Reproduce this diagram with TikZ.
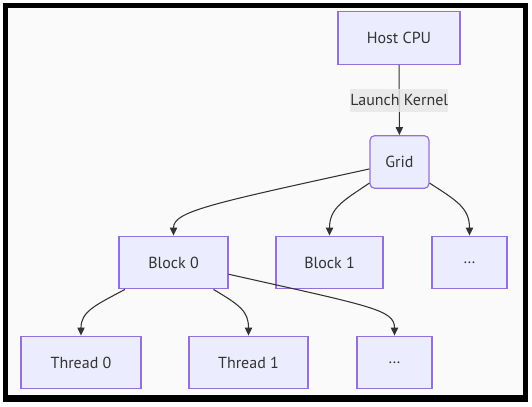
\documentclass[tikz,border=0pt]{standalone}
\usepackage{fontspec}
\setmainfont{PT Sans}
\usetikzlibrary{arrows.meta}
\definecolor{nodefill}{HTML}{ECECFF}
\definecolor{nodeline}{HTML}{9370DB}
\definecolor{edgecol}{HTML}{333333}
\definecolor{lblbg}{HTML}{E8E8E8}
\definecolor{pagebg}{HTML}{FAFAFA}

\begin{document}
\begin{tikzpicture}[x=0.75pt, y=-0.75pt,
  main/.style = {draw=nodeline, fill=nodefill, line width=0.9pt, text=edgecol,
    inner sep=0pt, minimum height=39.5pt, font=\fontsize{12}{14}\selectfont},
  lbl/.style = {fill=lblbg, fill opacity=0.85, text opacity=1, text=edgecol, inner sep=0pt,
    minimum width=73.5pt, minimum height=17.25pt, font=\fontsize{12}{14}\selectfont},
  arr/.style = {draw=edgecol, line width=0.8pt, -{Triangle[length=6pt, width=5.5pt]}}]

	\useasboundingbox (0, 0) rectangle (532, 407);
	\fill[white] (0, 0) rectangle (532, 407);
	\fill[black] (3, 3) rectangle (528, 402);
	\fill[pagebg] (8, 8) rectangle (523, 395);

	\node[main, minimum width=91.5pt] (C) at (399, 38) {Host CPU};
	\node[main, minimum width=44.25pt, rounded corners=3.5pt] (G) at (399.5, 162) {Grid};

	\node[main, minimum width=81.75pt] (B0) at (173.5, 262.5) {Block 0};
	\node[main, minimum width=80.25pt] (B1) at (329.5, 262.5) {Block 1};
	\node[main, minimum width=56.25pt] (B2) at (469.5, 262.5) {\dots};

	\node[main, minimum width=90pt] (T0) at (81, 362.5) {Thread 0};
	\node[main, minimum width=89.25pt] (T1) at (248.5, 362.5) {Thread 1};
	\node[main, minimum width=56.25pt] (T2) at (394.5, 362.5) {\dots};

	\draw[arr] (C) -- node[lbl] (L) {Launch Kernel} (G);

	\draw[arr] (G.193) .. controls +(-160, 35) and +(0, -24) .. (B0.north);
	\draw[arr] (G.215) .. controls +(-25, 17) and +(0, -28) .. (B1.north);
	\draw[arr] (G.325) .. controls +(26, 17) and +(0, -28) .. (B2.north);

	\draw[arr] (B0.209) .. controls +(-30, 16) and +(0, -24) .. (T0.north);
	\draw[arr] (B0.326) .. controls +(27, 16) and +(0, -24) .. (T1.north);
	\draw[arr] (B0.348) .. controls +(142, 32) and +(0, -26) .. (T2.north);

\end{tikzpicture}
\end{document}
